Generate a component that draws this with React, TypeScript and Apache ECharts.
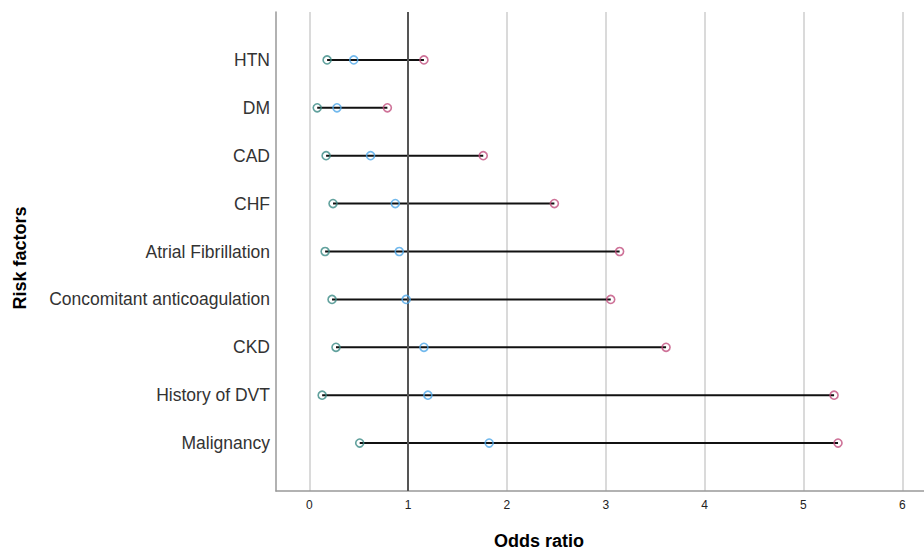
import React, { useEffect, useRef } from "react";
import * as echarts from "echarts";

const categories = [
  "HTN",
  "DM",
  "CAD",
  "CHF",
  "Atrial Fibrillation",
  "Concomitant anticoagulation",
  "CKD",
  "History of DVT",
  "Malignancy",
];
const lowerCI = [0.18, 0.08, 0.17, 0.24, 0.16, 0.23, 0.27, 0.13, 0.51];
const oddsRatio = [0.45, 0.28, 0.62, 0.87, 0.91, 0.98, 1.16, 1.2, 1.82];
const upperCI = [1.16, 0.79, 1.76, 2.48, 3.14, 3.05, 3.61, 5.31, 5.35];

const FONT = "'Liberation Sans', Arial, sans-serif";

export default function App() {
  const ref = useRef<HTMLDivElement>(null);
  useEffect(() => {
    document.body.style.margin = "0";
    const chart = echarts.init(ref.current!, null, { renderer: "svg" });
    const rows = categories.map((_, i) => i + 1);
    const seg = rows.map((r, i) => [lowerCI[i], upperCI[i], r]);
    const marker = (vals: number[], color: string, name: string) => ({
      type: "scatter",
      name,
      data: vals.map((v, i) => [v, rows[i]]),
      symbol: "circle",
      symbolSize: 8,
      z: 5,
      itemStyle: { color: "rgba(255,255,255,0)", borderColor: color, borderWidth: 1.6 },
    });
    chart.setOption({
      animation: false,
      grid: { left: 276, right: 0, top: 12, bottom: 59 },
      xAxis: {
        type: "value",
        position: "bottom",
        min: -0.337,
        max: 6.22,
        axisLine: { show: true, onZero: false, lineStyle: { color: "#999999", width: 1.5 } },
        axisTick: { show: false },
        axisLabel: {
          showMinLabel: false,
          showMaxLabel: false,
          color: "#222",
          fontFamily: FONT,
          fontSize: 12,
          margin: 8,
        },
        splitLine: {
          show: true,
          showMinLine: false,
          showMaxLine: false,
          lineStyle: { color: "#dadada", width: 2 },
        },
      },
      yAxis: {
        type: "value",
        position: "left",
        min: 0,
        max: 10,
        interval: 1,
        inverse: true,
        axisLine: { show: true, onZero: false, lineStyle: { color: "#999999", width: 1.5 } },
        axisTick: { show: false },
        splitLine: { show: false },
        axisLabel: {
          color: "#333",
          fontFamily: FONT,
          fontSize: 17.5,
          margin: 6,
          padding: [4, 0, 0, 0],
          formatter: (v: number) => (v >= 1 && v <= 9 ? categories[v - 1] : ""),
        },
      },
      graphic: [
        {
          type: "text",
          x: 539,
          y: 541,
          style: {
            text: "Odds ratio",
            font: `bold 18px ${FONT}`,
            fill: "#000",
            textAlign: "center",
            textVerticalAlign: "middle",
          },
        },
        {
          type: "text",
          x: 20,
          y: 258,
          rotation: Math.PI / 2,
          style: {
            text: "Risk factors",
            font: `bold 18px ${FONT}`,
            fill: "#000",
            textAlign: "center",
            textVerticalAlign: "middle",
          },
        },
      ],
      series: [
        {
          type: "custom",
          data: seg,
          z: 3,
          renderItem: (params: any, api: any) => {
            const a = api.coord([api.value(0), api.value(2)]);
            const b = api.coord([api.value(1), api.value(2)]);
            return {
              type: "line",
              shape: { x1: a[0], y1: a[1], x2: b[0], y2: b[1] },
              style: { stroke: "#111111", lineWidth: 2 },
            };
          },
          markLine: {
            silent: true,
            symbol: "none",
            label: { show: false },
            lineStyle: { color: "#555555", width: 2, type: "solid" },
            data: [{ xAxis: 1 }],
          },
        },
        marker(lowerCI, "#3a8985", "Lower"),
        marker(oddsRatio, "#4fa8e8", "OR"),
        marker(upperCI, "#c24f7e", "Upper"),
      ],
    });
    return () => chart.dispose();
  }, []);
  return <div ref={ref} style={{ width: 924, height: 550 }} />;
}
